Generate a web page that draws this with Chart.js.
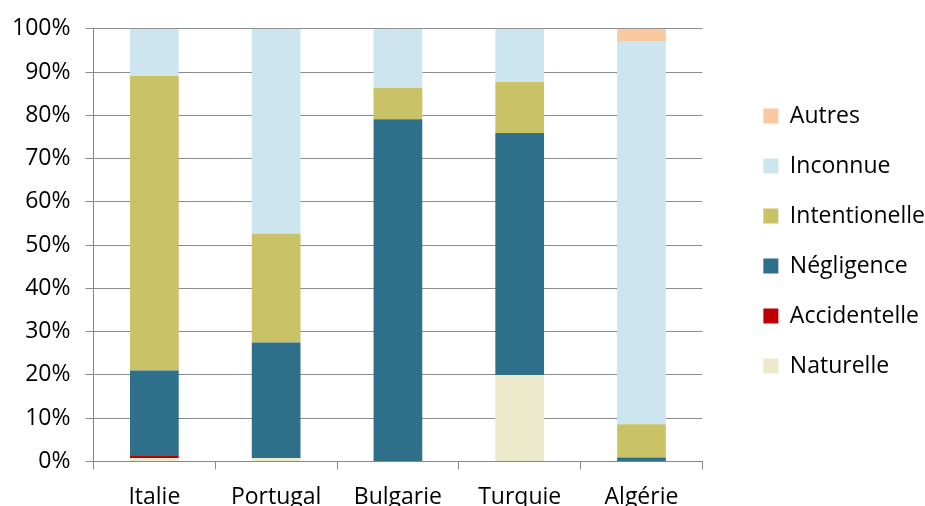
<!DOCTYPE html>
<html>
<head>
<meta charset="utf-8">
<script src="https://cdn.jsdelivr.net/npm/chart.js@4"></script>
<style>
html,body{margin:0;padding:0;background:#fff;overflow:hidden;}
#wrap{width:925px;height:525px;position:relative;}
</style>
</head>
<body>
<div id="wrap"><canvas id="c"></canvas></div>
<script>
const categories = ["Italie", "Portugal", "Bulgarie", "Turquie", "Algérie"];
const naturelle     = [0.8, 0.8, 0, 20.0, 0];
const accidentelle  = [0.6, 0, 0, 0, 0];
const negligence    = [19.6, 26.7, 79.1, 55.9, 0.9];
const intentionelle = [68.1, 25.1, 7.2, 11.8, 7.7];
const inconnue      = [10.9, 47.4, 13.7, 12.3, 88.4];
const autres        = [0, 0, 0, 0, 3.0];
const yTicks = [0,10,20,30,40,50,60,70,80,90,100];

const FONT = "'Open Sans', 'Noto Sans', sans-serif";
const mk = (label, data, color) => ({label, data, backgroundColor: color, borderWidth: 0, barPercentage: 0.4, categoryPercentage: 1.0});

const shiftLegend = {
  id: 'shiftLegend',
  afterLayout(chart) {
    const lg = chart.legend;
    const dx = 34, dy = -33;
    lg.left += dx; lg.right += dx;
    lg.top += dy; lg.bottom += dy;
  }
};

new Chart(document.getElementById('c'), {
  type: 'bar',
  data: {
    labels: categories,
    datasets: [
      mk('Naturelle', naturelle, '#EDE9CB'),
      mk('Accidentelle', accidentelle, '#C00000'),
      mk('Négligence', negligence, '#2E6F89'),
      mk('Intentionelle', intentionelle, '#CAC267'),
      mk('Inconnue', inconnue, '#CDE5EF'),
      mk('Autres', autres, '#FAC9A0')
    ]
  },
  options: {
    responsive: true,
    maintainAspectRatio: false,
    animation: false,
    layout: {padding: {left: -3, right: 24, top: 23, bottom: 0}},
    plugins: {
      legend: {
        position: 'right',
        reverse: true,
        labels: {
          boxWidth: 15, boxHeight: 15, padding: 27,
          color: '#000',
          font: {family: FONT, size: 23}
        }
      },
      tooltip: {enabled: false}
    },
    scales: {
      x: {
        stacked: true,
        grid: {display: true, drawOnChartArea: false, drawTicks: true, tickLength: 8, color: '#888', offset: true},
        border: {display: true, color: '#888', width: 1},
        ticks: {color: '#000', font: {family: FONT, size: 23}, padding: 14, maxRotation: 0}
      },
      y: {
        stacked: true,
        min: 0, max: 100,
        afterBuildTicks(axis) { axis.ticks = yTicks.map(v => ({value: v})); },
        grid: {color: '#8c8c8c', lineWidth: 1, tickLength: 8, drawTicks: true},
        border: {display: true, color: '#888', width: 1},
        ticks: {color: '#000', font: {family: FONT, size: 23}, padding: 15, callback: v => v + '%'}
      }
    }
  },
  plugins: [shiftLegend]
});
</script>
</body>
</html>
